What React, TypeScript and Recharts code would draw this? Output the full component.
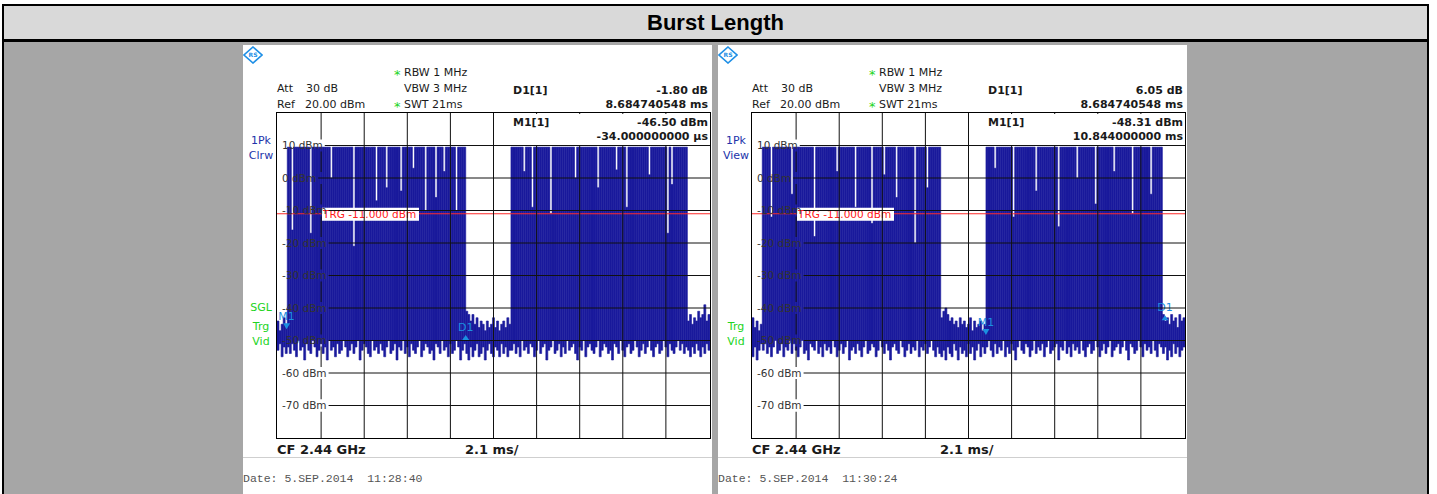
import React from 'react';
import { ComposedChart, Bar, XAxis, YAxis, ReferenceLine, ReferenceDot } from 'recharts';

// Sweep: 21 ms shown from -0.5 ms, one max/min detector bin every 0.1 ms (211 bins)
const SWEEP_START = -0.5;
const BIN_MS = 0.1;
const levelTicks = [10, 0, -10, -20, -30, -40, -50, -60, -70];
const timeDivisions = [1.6, 3.7, 5.8, 7.9, 10.0, 12.1, 14.2, 16.3, 18.4];
const TRIGGER_LEVEL = -11;

// left screenshot (11:28:40) - peak and floor of each bin, dBm
const peakL = [
  -44, -47, -45, -43, -46, 9.5, 9.5, -16, 9.5, 9.5,
  9.5, 9.5, 9.5, 9.5, 9.5, 9.5, -17, 9.5, 9.5, 9.5,
  9.5, 9.5, 9.5, 9.5, 9.5, 9.5, 0, 9.5, 9.5, 9.5,
  9.5, 9.5, 9.5, 9.5, 9.5, 9.5, 9.5, -21, 9.5, 9.5,
  9.5, 9.5, 9.5, 9.5, 9.5, 9.5, 9.5, 9.5, -7, 9.5,
  9.5, 9.5, 9.5, -3, 9.5, 9.5, 9.5, 9.5, 9.5, 9.5,
  -4, 9.5, 9.5, 9.5, 9.5, 9.5, 3, 9.5, 9.5, 9.5,
  9.5, 9.5, -10, 9.5, 9.5, 9.5, 9.5, -6, 9.5, 9.5,
  9.5, 2, 9.5, 9.5, 9.5, 9.5, 9.5, -10, 9.5, 9.5,
  9.5, 9.5, -41, -42, -44, -42, -45, -43, -46, -44,
  -45, -47, -44, -46, -45, -43, -46, -44, -47, -45,
  -44, -46, -43, -45, 9.5, 9.5, 9.5, 9.5, 9.5, 9.5,
  2, 9.5, 9.5, 9.5, -9, 9.5, 9.5, 9.5, 9.5, 9.5,
  9.5, 9.5, 9.5, -11, 9.5, 9.5, 9.5, 9.5, 9.5, 9.5,
  9.5, 9.5, 9.5, 9.5, 9.5, 0, 9.5, 9.5, 9.5, 9.5,
  9.5, 9.5, 9.5, 9.5, 9.5, 9.5, -3, 9.5, 9.5, 9.5,
  9.5, 9.5, 9.5, 9.5, 9.5, 2.5, 9.5, 9.5, 9.5, 9.5,
  -9, 9.5, 9.5, 9.5, 9.5, 9.5, 9.5, 9.5, 9.5, 9.5,
  9.5, 1, 9.5, 9.5, 9.5, 9.5, 9.5, 9.5, 9.5, 9.5,
  -17, 9.5, -2, 9.5, 9.5, 9.5, 9.5, 9.5, 9.5, 9.5,
  -44, -42, -45, -43, -44, -41, -43, -42, -39, -44,
  -42,
];
const floorL = [
  -53, -51, -55, -52, -54, -52, -54, -51, -53, -55,
  -50, -53, -52, -56, -51, -53, -54, -50, -52, -55,
  -53, -51, -54, -52, -56, -50, -53, -52, -55, -51,
  -54, -53, -50, -52, -55, -53, -51, -54, -52, -50,
  -56, -53, -51, -52, -54, -55, -50, -53, -52, -54,
  -51, -53, -55, -52, -50, -54, -53, -51, -56, -52,
  -53, -50, -54, -52, -55, -51, -53, -54, -52, -50,
  -55, -53, -51, -52, -54, -53, -56, -51, -52, -54,
  -50, -53, -52, -55, -51, -54, -53, -50, -52, -56,
  -53, -51, -54, -56, -52, -55, -53, -51, -55, -54,
  -52, -56, -53, -51, -54, -55, -52, -53, -55, -51,
  -54, -52, -55, -53, -53, -51, -54, -52, -55, -50,
  -53, -52, -54, -51, -52, -55, -53, -50, -54, -52,
  -51, -56, -53, -52, -50, -54, -53, -51, -55, -52,
  -54, -50, -53, -52, -51, -54, -56, -52, -53, -50,
  -55, -52, -51, -53, -54, -52, -50, -55, -53, -51,
  -52, -54, -53, -56, -51, -52, -54, -50, -53, -55,
  -52, -51, -54, -53, -50, -52, -55, -53, -51, -54,
  -52, -50, -53, -55, -52, -51, -54, -53, -50, -52,
  -55, -51, -53, -54, -52, -50, -53, -51, -54, -52,
  -53, -55, -52, -54, -51, -53, -55, -52, -54, -51,
  -53,
];

// right screenshot (11:30:24)
const peakR = [
  -43, -46, -44, -47, -45, 9.5, 9.5, 9.5, 9.5, -12,
  9.5, 9.5, 9.5, 9.5, 9.5, 9.5, 9.5, 9.5, 9.5, -5,
  9.5, 9.5, 9.5, 9.5, 9.5, 9.5, 9.5, 9.5, 9.5, 9.5,
  -18, 9.5, 9.5, 9.5, 9.5, 9.5, 9.5, 9.5, 9.5, 9.5,
  9.5, 2, 9.5, 9.5, 9.5, 9.5, 9.5, 9.5, 9.5, 9.5,
  -9, 9.5, 9.5, 9.5, 9.5, 9.5, 9.5, 9.5, -14, 9.5,
  9.5, 9.5, 9.5, 9.5, 1, 9.5, 9.5, 9.5, 9.5, 9.5,
  -6, 9.5, 9.5, 9.5, 9.5, 9.5, 9.5, 9.5, 9.5, -20,
  9.5, 9.5, 9.5, 9.5, 9.5, -3, 9.5, 9.5, 9.5, 9.5,
  9.5, 9.5, -43, -41, -40, -42, -44, -43, -45, -44,
  -46, -43, -45, -44, -46, -45, -43, -47, -44, -46,
  -45, -44, -47, -45, 9.5, 9.5, 9.5, 9.5, 3, 9.5,
  9.5, 9.5, 9.5, 9.5, 9.5, 9.5, 9.5, -12, 9.5, 9.5,
  9.5, 9.5, 9.5, 9.5, 9.5, 9.5, 9.5, 9.5, -4, 9.5,
  9.5, 9.5, 9.5, 9.5, 9.5, 9.5, 9.5, 9.5, 9.5, -15,
  9.5, 9.5, 9.5, 9.5, 9.5, 9.5, 9.5, 9.5, 0, 9.5,
  9.5, 9.5, 9.5, 9.5, 9.5, 9.5, 9.5, -8, 9.5, 9.5,
  9.5, 9.5, 9.5, 9.5, 9.5, 9.5, 2, 9.5, 9.5, 9.5,
  9.5, 9.5, 9.5, 9.5, 9.5, -11, 9.5, 9.5, 9.5, 9.5,
  9.5, 9.5, 9.5, 9.5, -5, 9.5, 9.5, 9.5, 9.5, 9.5,
  -42, -44, -43, -45, -42, -44, -43, -46, -42, -44,
  -43,
];
const floorR = [
  -55, -52, -56, -53, -51, -53, -51, -54, -52, -55,
  -52, -50, -54, -53, -51, -55, -52, -53, -50, -54,
  -51, -53, -55, -52, -50, -54, -53, -56, -51, -52,
  -53, -50, -54, -52, -55, -51, -53, -52, -54, -50,
  -52, -55, -53, -51, -54, -52, -50, -56, -53, -52,
  -54, -51, -53, -55, -52, -50, -54, -53, -51, -52,
  -55, -53, -50, -52, -54, -51, -53, -56, -52, -51,
  -53, -54, -50, -52, -55, -53, -51, -54, -52, -53,
  -50, -55, -52, -53, -51, -54, -52, -50, -53, -55,
  -52, -54, -55, -53, -56, -52, -54, -55, -51, -53,
  -56, -52, -54, -53, -55, -51, -54, -52, -56, -53,
  -51, -55, -52, -54, -52, -50, -53, -55, -51, -54,
  -52, -53, -50, -55, -52, -54, -51, -53, -56, -52,
  -50, -53, -54, -51, -52, -55, -53, -50, -54, -52,
  -53, -51, -55, -52, -50, -54, -53, -52, -51, -56,
  -52, -53, -50, -54, -52, -55, -51, -53, -52, -54,
  -50, -53, -55, -52, -51, -54, -53, -50, -52, -55,
  -53, -51, -54, -52, -50, -55, -53, -52, -51, -54,
  -52, -50, -53, -56, -51, -52, -54, -53, -50, -52,
  -55, -51, -53, -52, -54, -50, -53, -55, -51, -52,
  -54, -52, -56, -53, -55, -51, -54, -52, -55, -53,
  -52,
];

type Marker = { name: string; t: number; level: number; down: boolean };
const markersL: Marker[] = [
  { name: 'M1', t: -0.034, level: -46.5, down: true },
  { name: 'D1', t: 8.651, level: -48.3, down: false },
];
const markersR: Marker[] = [
  { name: 'M1', t: 10.844, level: -48.31, down: true },
  { name: 'D1', t: 19.529, level: -42.26, down: false },
];

const deltaL = ['-1.80 dB', '8.684740548 ms'];
const deltaR = ['6.05 dB', '8.684740548 ms'];
const m1L = ['-46.50 dBm', '-34.000000000 µs'];
const m1R = ['-48.31 dBm', '10.844000000 ms'];
const traceL = ['1Pk', 'Clrw'];
const traceR = ['1Pk', 'View'];
const statusL = ['SGL', 'Trg', 'Vid'];
const statusR = ['', 'Trg', 'Vid'];
const dateL = 'Date: 5.SEP.2014  11:28:40';
const dateR = 'Date: 5.SEP.2014  11:30:24';

// plot geometry inside the chart svg
const PX = 34;
const PY = 67;
const PW = 433;
const PH = 325;
const TRACE = '#1a1a9c';
const MARK = '#1b8fe0';
const FONT = '"DejaVu Sans", Verdana, sans-serif';
const levelY = (v: number) => PY + ((20 - v) / 100) * PH;

function labelWidth(s: string) {
  let w = 0;
  for (const c of s) w += c === '-' ? 0.361 : c === ' ' ? 0.318 : /\d/.test(c) ? 0.636 : 0;
  return (w + 2.295) * 10.5;
}

function LevelTick(props: any) {
  const { y, payload } = props;
  const label = `${payload.value} dBm`;
  const w = labelWidth(payload.value + ' ');
  const boxed = payload.value <= -60;
  return (
    <g>
      {boxed && <rect x={PX + 2} y={y - 6} width={w + 8} height={12} fill="#fff" />}
      <line x1={PX + 7 + w} x2={PX + PW} y1={y} y2={y} stroke="#111" strokeWidth={1} />
      <text x={PX + 5} y={y} dy="0.36em" fontSize={10.5} fill="#333" fontFamily={FONT}>
        {label}
      </text>
    </g>
  );
}

// first division runs behind the level labels, so it is broken around them
function DivisionTick(props: any) {
  const { x, index } = props;
  if (index !== 0) return <line x1={x} x2={x} y1={PY} y2={PY + PH} stroke="#111" strokeWidth={1} />;
  const stops = [PY, ...levelTicks.flatMap((v) => [levelY(v) - 6, levelY(v) + 6]), PY + PH];
  const segs = [];
  for (let i = 0; i < stops.length; i += 2) segs.push([stops[i], stops[i + 1]]);
  return (
    <g>
      {segs.map(([a, b], i) => (
        <line key={i} x1={x} x2={x} y1={a} y2={b} stroke="#111" strokeWidth={1} />
      ))}
    </g>
  );
}

function TrgLabel(props: any) {
  const { x, y } = props.viewBox;
  return (
    <g>
      <rect x={x + 45} y={y - 6} width={97} height={13} fill="#fff" />
      <text x={x + 46} y={y} dy="0.36em" fontSize={10.5} fill="#ff2020" fontFamily={FONT}>
        TRG -11.000 dBm
      </text>
    </g>
  );
}

function MarkerGlyph(props: any) {
  const { cx, cy, name, down } = props;
  const tri = down
    ? `${cx - 3.5},${cy - 6} ${cx + 3.5},${cy - 6} ${cx},${cy}`
    : `${cx - 3.5},${cy + 5} ${cx + 3.5},${cy + 5} ${cx},${cy}`;
  return (
    <g>
      <polygon points={tri} fill={MARK} />
      <text x={cx} y={down ? cy - 13 : cy - 8} dy="0.36em" textAnchor="middle" fontSize={11} fill={MARK} fontFamily={FONT}>
        {name}
      </text>
    </g>
  );
}

function Sweep({ peak, floor, markers }: { peak: number[]; floor: number[]; markers: Marker[] }) {
  const rows = peak.map((p, i) => ({ t: +(SWEEP_START + i * BIN_MS).toFixed(2), span: [floor[i], p] }));
  return (
    <ComposedChart
      width={469}
      height={412}
      data={rows}
      barCategoryGap={0}
      barGap={0}
      margin={{ top: PY, right: 2, bottom: 20, left: PX }}
    >
      <Bar dataKey="span" fill={TRACE} stroke={TRACE} strokeWidth={0.6} isAnimationActive={false} />
      <XAxis
        dataKey="t"
        type="category"
        ticks={timeDivisions}
        interval={0}
        height={20}
        mirror
        axisLine={false}
        tickLine={false}
        tick={<DivisionTick />}
      />
      <XAxis xAxisId="time" dataKey="t" type="number" domain={[-0.5, 20.5]} hide allowDataOverflow />
      <YAxis
        domain={[-80, 20]}
        ticks={levelTicks}
        interval={0}
        width={34}
        mirror
        axisLine={false}
        tickLine={false}
        tick={<LevelTick />}
        allowDataOverflow
      />
      <ReferenceLine y={TRIGGER_LEVEL} stroke="#ff2a2a" strokeWidth={1.2} label={<TrgLabel />} />
      {markers.map((m) => (
        <ReferenceDot
          key={m.name}
          xAxisId="time"
          x={m.t}
          y={m.level}
          r={0}
          shape={(p: any) => <MarkerGlyph {...p} name={m.name} down={m.down} />}
        />
      ))}
    </ComposedChart>
  );
}

function Txt({
  x, y, children, size = 11, color = '#1a1a1a', bold = false, align = 'left', mono = false,
}: {
  x: number; y: number; children: React.ReactNode; size?: number; color?: string;
  bold?: boolean; align?: 'left' | 'right' | 'center'; mono?: boolean;
}) {
  return (
    <div
      style={{
        position: 'absolute',
        left: x,
        top: y - size * 0.6,
        fontSize: size,
        lineHeight: `${size * 1.2}px`,
        fontFamily: mono ? '"Liberation Mono", monospace' : FONT,
        fontWeight: bold ? 700 : 400,
        color,
        whiteSpace: 'pre',
        transform: align === 'right' ? 'translateX(-100%)' : align === 'center' ? 'translateX(-50%)' : undefined,
      }}
    >
      {children}
    </div>
  );
}

function Screenshot({
  ox, peak, floor, markers, delta, m1, trace, status, date,
}: {
  ox: number; peak: number[]; floor: number[]; markers: Marker[]; delta: string[];
  m1: string[]; trace: string[]; status: string[]; date: string;
}) {
  const green = '#22d422';
  const blue = '#2233aa';
  return (
    <>
      <div style={{ position: 'absolute', left: 243 + ox, top: 45, width: 469, height: 412, background: '#fff' }} />
      <div style={{ position: 'absolute', left: 243 + ox, top: 457, width: 469, height: 1, background: '#cfcfcf' }} />
      <div style={{ position: 'absolute', left: 243 + ox, top: 458, width: 469, height: 36, background: '#fff' }} />
      <div style={{ position: 'absolute', left: 243 + ox, top: 46 }}>
        <Sweep peak={peak} floor={floor} markers={markers} />
      </div>
      {/* marker readout box hides the grid in the top row */}
      <div style={{ position: 'absolute', left: 495 + ox, top: 114, width: 215, height: 31, background: '#fff' }} />
      <div
        style={{
          position: 'absolute', left: 276.3 + ox, top: 112.3, width: 434.4, height: 326.4,
          border: '1.5px solid #000', boxSizing: 'border-box',
        }}
      />
      <svg style={{ position: 'absolute', left: 243 + ox, top: 46 }} width={20} height={18}>
        <polygon points="10,1 19,9 10,17 1,9" fill="#fff" stroke="#1e8fe6" strokeWidth={1.6} />
        <text x={10} y={9} dy="0.35em" textAnchor="middle" fontSize={6} fontWeight={700} fill="#1e8fe6" fontFamily={FONT}>
          RS
        </text>
      </svg>

      <Txt x={394 + ox} y={75} size={13} color={green}>*</Txt>
      <Txt x={404 + ox} y={73}>RBW 1 MHz</Txt>
      <Txt x={277 + ox} y={89}>Att</Txt>
      <Txt x={306 + ox} y={89}>30 dB</Txt>
      <Txt x={404 + ox} y={89}>VBW 3 MHz</Txt>
      <Txt x={277 + ox} y={105}>Ref</Txt>
      <Txt x={305 + ox} y={105}>20.00 dBm</Txt>
      <Txt x={394 + ox} y={107} size={13} color={green}>*</Txt>
      <Txt x={404 + ox} y={105}>SWT 21ms</Txt>

      <Txt x={513 + ox} y={91} bold>D1[1]</Txt>
      <Txt x={708 + ox} y={91} bold align="right">{delta[0]}</Txt>
      <Txt x={708 + ox} y={105} bold align="right">{delta[1]}</Txt>
      <Txt x={513 + ox} y={123} bold>M1[1]</Txt>
      <Txt x={708 + ox} y={123} bold align="right">{m1[0]}</Txt>
      <Txt x={708 + ox} y={137} bold align="right">{m1[1]}</Txt>

      <Txt x={261 + ox} y={141} color={blue} align="center">{trace[0]}</Txt>
      <Txt x={261 + ox} y={156} color={blue} align="center">{trace[1]}</Txt>
      {status.map((s, i) => (
        <Txt key={i} x={261 + ox} y={308 + [0, 19, 34][i]} color={green} align="center">{s}</Txt>
      ))}

      <Txt x={277 + ox} y={449.5} size={13} bold>CF 2.44 GHz</Txt>
      <Txt x={465 + ox} y={449.5} size={13} bold>2.1 ms/</Txt>
      <Txt x={243 + ox} y={479} size={11.5} color="#555" mono>{date}</Txt>
    </>
  );
}

export default function App() {
  return (
    <div style={{ position: 'absolute', left: 0, top: 0, width: 1437, height: 494, overflow: 'hidden', background: '#fff' }}>
      <div style={{ position: 'absolute', left: 2, top: 4, width: 1427, height: 490, background: '#000' }} />
      <div style={{ position: 'absolute', left: 4, top: 6, width: 1423, height: 33, background: '#d9d9d9' }} />
      <div style={{ position: 'absolute', left: 4, top: 42, width: 1423, height: 452, background: '#a6a6a6' }} />
      <div
        style={{
          position: 'absolute', left: 4, top: 6, width: 1423, height: 33, lineHeight: '33px', textAlign: 'center',
          fontFamily: '"Liberation Sans", Arial, sans-serif', fontWeight: 700, fontSize: 22, color: '#000',
        }}
      >
        Burst Length
      </div>
      <Screenshot ox={0} peak={peakL} floor={floorL} markers={markersL} delta={deltaL} m1={m1L}
        trace={traceL} status={statusL} date={dateL} />
      <Screenshot ox={475} peak={peakR} floor={floorR} markers={markersR} delta={deltaR} m1={m1R}
        trace={traceR} status={statusR} date={dateR} />
    </div>
  );
}
